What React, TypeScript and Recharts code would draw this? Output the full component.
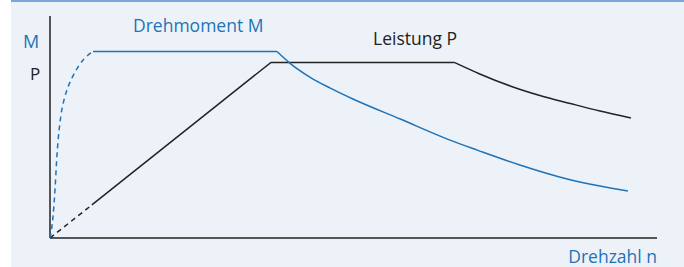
import React from 'react';
import { LineChart, Line, XAxis, YAxis, ReferenceLine } from 'recharts';

// Drehzahl n (0..100 = Achsenlänge) und Werte (0..100 = Achsenhöhe)
const pDashN = [0, 6.9];
const pDashV = [0, 14.9];
const pLineN = [6.9, 36.4, 66.6];
const pLineV = [14.9, 79.1, 79.1];
const pCurveN = [66.6, 70.8, 75.8, 80.7, 85.7, 90.6, 95.7];
const pCurveV = [79.1, 73.9, 68.5, 64.2, 60.6, 57.2, 54.1];

const mDashN = [0, 0.49, 0.82, 1.15, 1.81, 2.31, 2.97, 3.79, 4.61, 5.6, 7.08];
const mDashV = [0, 9.5, 21.6, 37.4, 55.4, 62.2, 68.0, 73.0, 77.0, 80.6, 84.0];
const mFlatN = [7.08, 37.4];
const mFlatV = [84.0, 84.0];
const mCurveN = [37.4, 39.5, 42.8, 46.1, 49.9, 57.7, 65.9, 70.4, 77.4, 85.2, 90.6, 95.2];
const mCurveV = [84.0, 78.8, 72.5, 67.6, 62.6, 53.6, 44.1, 39.6, 32.9, 26.6, 23.4, 21.2];

const zip = (ns: number[], vs: number[]) => ns.map((n, i) => ({ n, v: vs[i] }));

const BLUE = '#1f72b6';
const BLACK = '#222';
const FONT = '"Open Sans", "Noto Sans", sans-serif';

export default function App() {
    return (
        <div style={{ position: 'fixed', left: 0, top: 0, width: 684, height: 267, background: '#fff' }}>
            <div style={{ position: 'absolute', left: 11, top: 0, right: 0, bottom: 0, background: '#edf2f9', borderTop: '2px solid #7ba6d9' }} />
            <div style={{ position: 'absolute', left: 0, top: 0 }}>
                <LineChart width={684} height={267} margin={{ top: 16, right: 27, bottom: 29, left: 50 }}>
                    <XAxis type="number" dataKey="n" domain={[0, 100]} hide />
                    <YAxis type="number" dataKey="v" domain={[0, 100]} hide />
                    <ReferenceLine y={0} stroke="#555" strokeWidth={2} />
                    <ReferenceLine x={0} stroke={BLACK} strokeWidth={1.5} />
                    <Line data={zip(pDashN, pDashV)} dataKey="v" type="linear" stroke={BLACK} strokeWidth={1.5} strokeDasharray="5 4" dot={false} isAnimationActive={false} />
                    <Line data={zip(pLineN, pLineV)} dataKey="v" type="linear" stroke={BLACK} strokeWidth={1.5} dot={false} isAnimationActive={false} />
                    <Line data={zip(pCurveN, pCurveV)} dataKey="v" type="monotone" stroke={BLACK} strokeWidth={1.5} dot={false} isAnimationActive={false} />
                    <Line data={zip(mDashN, mDashV)} dataKey="v" type="monotone" stroke={BLUE} strokeWidth={1.5} strokeDasharray="5 4" dot={false} isAnimationActive={false} />
                    <Line data={zip(mFlatN, mFlatV)} dataKey="v" type="linear" stroke={BLUE} strokeWidth={1.5} dot={false} isAnimationActive={false} />
                    <Line data={zip(mCurveN, mCurveV)} dataKey="v" type="monotone" stroke={BLUE} strokeWidth={1.5} dot={false} isAnimationActive={false} />
                </LineChart>
            </div>
            <svg width={684} height={267} style={{ position: 'absolute', left: 0, top: 0, pointerEvents: 'none' }}>
                <g fontFamily={FONT} fontSize={17.5}>
                    <text x={23} y={48} fill={BLUE} fontSize={18}>M</text>
                    <text x={30} y={80} fill={BLACK} fontSize={17}>P</text>
                    <text x={133} y={32} fill={BLUE}>Drehmoment M</text>
                    <text x={373} y={45} fill={BLACK}>Leistung P</text>
                    <text x={657} y={263} fill={BLUE} textAnchor="end">Drehzahl n</text>
                </g>
            </svg>
        </div>
    );
}
